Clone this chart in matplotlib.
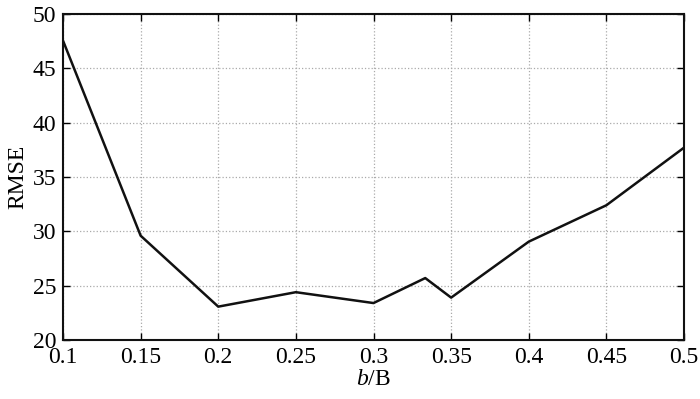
import matplotlib
matplotlib.use("Agg")
import matplotlib.pyplot as plt

x_vals = [0.1, 0.15, 0.2, 0.25, 0.3, 1/3, 0.35, 0.4, 0.45, 0.5]
rmse = [47.55, 29.6, 23.07, 24.4, 23.4, 25.7, 23.9, 29.05, 32.4, 37.7]
x_ticks = [0.1, 0.15, 0.2, 0.25, 0.3, 0.35, 0.4, 0.45, 0.5]
x_tick_labels = ["0.1", "0.15", "0.2", "0.25", "0.3", "0.35", "0.4", "0.45", "0.5"]
y_ticks = [20, 25, 30, 35, 40, 45, 50]

plt.rcParams['font.family'] = ['Liberation Serif', 'DejaVu Serif']
plt.rcParams['mathtext.fontset'] = 'custom'
plt.rcParams['mathtext.it'] = 'Liberation Serif:italic'
plt.rcParams['mathtext.rm'] = 'Liberation Serif'

fig = plt.figure(figsize=(7.0, 3.99), dpi=100)
ax = fig.add_axes([63/700, 1 - 340/399, (684-63)/700, (340-14)/399])

ax.plot(x_vals, rmse, color='#111111', linewidth=1.8)
ax.set_xlim(0.1, 0.5)
ax.set_ylim(20, 50)
ax.set_xticks(x_ticks)
ax.set_xticklabels(x_tick_labels)
ax.set_yticks(y_ticks)
ax.grid(True, linestyle=':', color='#aaaaaa', linewidth=0.9)
ax.tick_params(direction='in', length=5, width=1, top=True, right=True, labelsize=17, pad=5)
for s in ax.spines.values():
    s.set_linewidth(1.5)
    s.set_color('#111111')
ax.set_xlabel(r'$b$/B', fontsize=17, labelpad=1)
ax.set_ylabel('RMSE', fontsize=17, labelpad=3)

fig.savefig('out.png', dpi=100)
